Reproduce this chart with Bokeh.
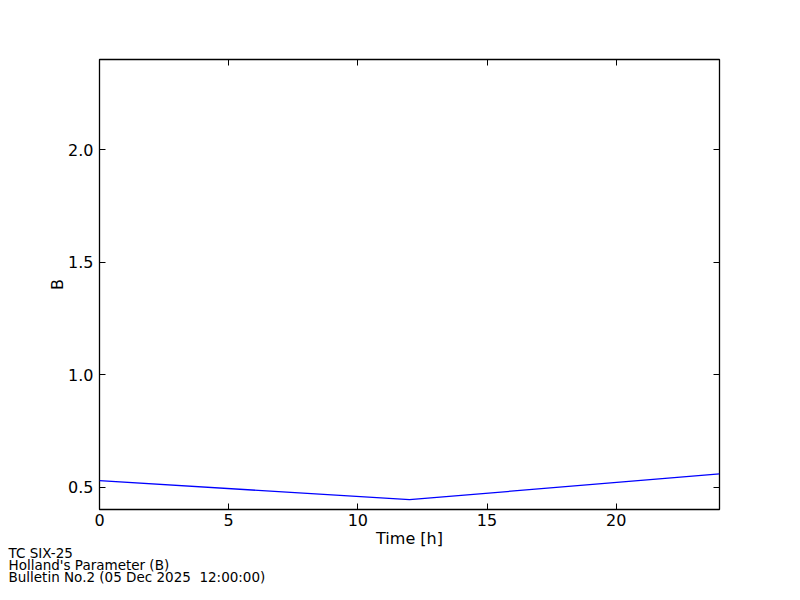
from bokeh.plotting import figure
from bokeh.models import LinearAxis, FixedTicker, Title, Range1d, NumeralTickFormatter
from bokeh.embed import file_html
from bokeh.resources import INLINE

# Data
time_h = [0, 12, 24]
holland_b = [0.528, 0.444, 0.558]
x_ticks = [0, 5, 10, 15, 20]
y_ticks = [0.5, 1.0, 1.5, 2.0]
footer_lines = ["TC SIX-25", "Holland's Parameter (B)", "Bulletin No.2 (05 Dec 2025\u00a0 12:00:00)"]

FONT = "DejaVu Sans"

p = figure(width=784, height=584, output_backend="svg", toolbar_location=None,
           x_range=Range1d(0, 24), y_range=Range1d(0.4, 2.4),
           min_border_left=99, min_border_right=65, min_border_top=59, min_border_bottom=75)
p.background_fill_color = "white"
p.border_fill_color = "white"
p.grid.visible = False
p.outline_line_color = "black"
p.outline_line_width = 1.3

p.line(time_h, holland_b, line_color="#0000ff", line_width=1.3)

def style_axis(ax, ticks, show_labels):
    ax.ticker = FixedTicker(ticks=ticks)
    ax.major_tick_in = 6
    ax.major_tick_out = 0
    ax.minor_tick_in = 0
    ax.minor_tick_out = 0
    ax.major_tick_line_color = "black"
    ax.major_tick_line_width = 1
    ax.axis_line_color = None
    ax.major_label_text_font = FONT
    ax.major_label_text_color = "black"
    ax.major_label_text_font_size = "16px"
    if not show_labels:
        ax.major_label_overrides = {t: "" for t in ticks}
        ax.major_label_standoff = 0

xa = p.xaxis[0]
style_axis(xa, x_ticks, True)
xa.major_label_standoff = 4
xa.axis_label = "Time [h]"
xa.axis_label_text_font = FONT
xa.axis_label_text_font_size = "16px"
xa.axis_label_text_font_style = "normal"
xa.axis_label_text_color = "black"
xa.axis_label_standoff = 0

ya = p.yaxis[0]
style_axis(ya, y_ticks, True)
ya.formatter = NumeralTickFormatter(format="0.0")
ya.major_label_standoff = 6
ya.axis_label = "B"
ya.axis_label_text_font = FONT
ya.axis_label_text_font_size = "16px"
ya.axis_label_text_font_style = "normal"
ya.axis_label_text_color = "black"
ya.axis_label_standoff = -2

top = LinearAxis()
style_axis(top, x_ticks, False)
p.add_layout(top, "above")
right = LinearAxis()
style_axis(right, y_ticks, False)
p.add_layout(right, "right")

# Footer text as a multi-line title below the axis
footer = Title(text="\n".join(footer_lines), align="left", offset=8 - 99, standoff=-14,
               text_font=FONT, text_font_size="13.5px", text_font_style="normal",
               text_color="black", text_line_height=0.76)
p.add_layout(footer, "below")

open("out.html", "w").write(file_html(p, INLINE))
